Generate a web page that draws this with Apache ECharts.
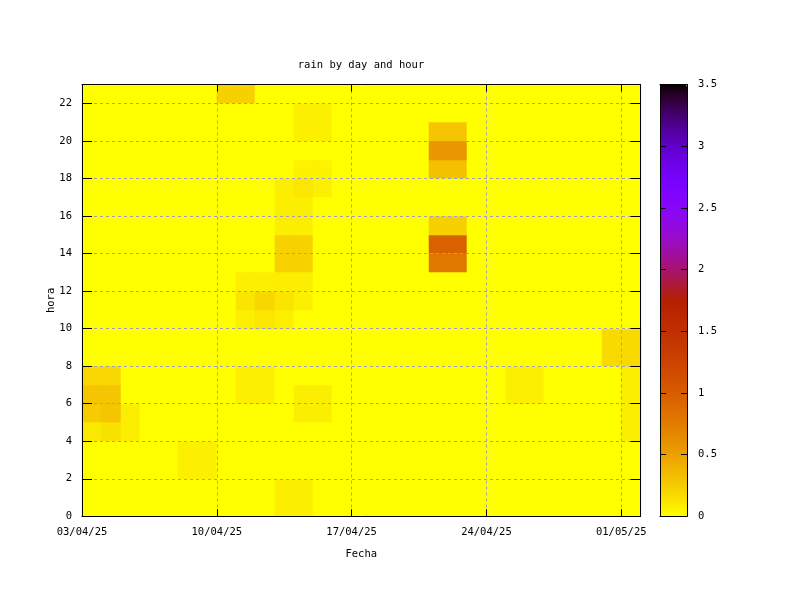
<!DOCTYPE html>
<html>
<head>
<meta charset="utf-8">
<script src="https://cdn.jsdelivr.net/npm/echarts@6/dist/echarts.min.js"></script>
<style>html,body{margin:0;padding:0;background:#fff;}#chart{width:800px;height:600px;}</style>
</head>
<body>
<div id="chart"></div>
<script>
// ---- data ----
const startDateUTC = Date.UTC(2025, 3, 3); // 03/04/25
const dayCount = 29;   // days on x axis
const hourCount = 23;  // hour rows
const xTickDays = [0, 7, 14, 21, 28];
const cbTicks = [0, 0.5, 1, 1.5, 2, 2.5, 3, 3.5];
// non-zero cells (day index from 03/04/25, hour, rain)
const cellDay  = [7,8, 11,12,11,12, 11,12, 11,12,10, 10,11,10,11, 10,11,10,11, 8,9,10,11, 8,9,10,11, 8,9,10, 8,9,8,9, 11,12,11,12, 5,6,5,6, 10,11,10,11, 0,1,0,1,0,1,2,0,1,2, 18,19,18,19,18,19,18,19,18,19,18,19, 22,23,22,23, 27,28,27,28, 28,28,28,28];
const cellHour = [22,22, 21,21,20,20, 18,18, 17,17,17, 16,16,15,15, 14,14,13,13, 12,12,12,12, 11,11,11,11, 10,10,10, 7,7,6,6, 6,6,5,5, 3,3,2,2, 1,1,0,0, 7,7,6,6,5,5,5,4,4,4, 20,20,19,19,18,18,15,15,14,14,13,13, 7,7,6,6, 9,9,8,8, 7,6,5,4];
const cellRain = [0.23,0.23, 0.07,0.07,0.07,0.07, 0.06,0.06, 0.12,0.07,0.08, 0.08,0.08,0.08,0.08, 0.22,0.22,0.22,0.22, 0.07,0.07,0.08,0.08, 0.13,0.2,0.13,0.07, 0.07,0.12,0.07, 0.07,0.07,0.07,0.07, 0.08,0.08,0.08,0.08, 0.07,0.07,0.07,0.07, 0.08,0.08,0.08,0.08, 0.19,0.19,0.29,0.29,0.25,0.29,0.08,0.1,0.14,0.08, 0.29,0.29,0.57,0.57,0.31,0.31,0.23,0.23,0.97,0.97,0.78,0.78, 0.07,0.07,0.07,0.07, 0.18,0.18,0.18,0.18, 0.08,0.08,0.08,0.08];

// ---- build table ----
const grid = {};
for (let i = 0; i < cellDay.length; i++) grid[cellDay[i] + '_' + cellHour[i]] = cellRain[i];
const table = [];
for (let d = 0; d < dayCount; d++) {
  for (let h = 0; h < hourCount; h++) {
    table.push([d, h, grid[d + '_' + h] || 0]);
  }
}

// gnuplot palette rgbformulae 7,5,15 (negative)
const paletteColors = [];
const N = 64;
for (let i = 0; i <= N; i++) {
  const x = 1 - i / N;
  const r = Math.sqrt(x), g = x * x * x, b = Math.max(0, Math.sin(2 * Math.PI * x));
  const c = v => Math.round(Math.min(1, Math.max(0, v)) * 255);
  paletteColors.push('rgb(' + c(r) + ',' + c(g) + ',' + c(b) + ')');
}

function fmtDate(v) {
  const dt = new Date(startDateUTC + v * 86400000);
  const p = n => (n < 10 ? '0' : '') + n;
  return p(dt.getUTCDate()) + '/' + p(dt.getUTCMonth() + 1) + '/' + p(dt.getUTCFullYear() % 100);
}

const FONT = 'DejaVu Sans Mono';
const FS = 10.5;
const gridLine = { show: true, showMinLine: true, showMaxLine: false, lineStyle: { color: '#a0a0b0', type: [3, 3], width: 1 } };
const black = { color: '#000', width: 1 };
const line = { show: true, onZero: false, lineStyle: black };

const chart = echarts.init(document.getElementById('chart'), null, { renderer: 'canvas' });
chart.setOption({
  backgroundColor: '#fff',
  animation: false,
  textStyle: { fontFamily: FONT },
  title: {
    text: 'rain by day and hour', left: 361, top: 60, textAlign: 'center', padding: 0,
    textStyle: { fontFamily: FONT, fontSize: FS, fontWeight: 'normal', color: '#000' }
  },
  grid: [
    { left: 82, top: 84.5, width: 558.5, height: 431.8, containLabel: false },
    { left: 660, top: 84.5, width: 27, height: 431.8, containLabel: false }
  ],
  xAxis: [
    {
      gridIndex: 0, type: 'value', min: 0, max: dayCount, interval: 7, position: 'bottom', z: 10,
      name: 'Fecha', nameLocation: 'middle', nameGap: 32, nameMoveOverlap: false,
      nameTextStyle: { fontFamily: FONT, fontSize: FS, color: '#000' },
      axisLine: line,
      axisTick: { show: true, inside: true, length: 7, lineStyle: black },
      axisLabel: { show: true, margin: 10, fontFamily: FONT, fontSize: FS, color: '#000', showMaxLabel: false,
        formatter: v => (xTickDays.indexOf(v) >= 0 ? fmtDate(v) : '') },
      splitLine: gridLine
    },
    {
      gridIndex: 0, type: 'value', min: 0, max: dayCount, interval: 7, position: 'top', z: 11,
      axisLine: line,
      axisTick: { show: true, inside: true, length: 7, lineStyle: black },
      axisLabel: { show: false }, splitLine: { show: false }
    },
    { gridIndex: 1, type: 'value', min: 0, max: 1, position: 'bottom', z: 11,
      axisLine: line, axisTick: { show: false }, axisLabel: { show: false }, splitLine: { show: false } },
    { gridIndex: 1, type: 'value', min: 0, max: 1, position: 'top', z: 11,
      axisLine: line, axisTick: { show: false }, axisLabel: { show: false }, splitLine: { show: false } }
  ],
  yAxis: [
    {
      gridIndex: 0, type: 'value', min: 0, max: hourCount, interval: 2, position: 'left', z: 10,
      name: 'hora', nameLocation: 'middle', nameGap: 25, nameMoveOverlap: false,
      nameTextStyle: { fontFamily: FONT, fontSize: FS, color: '#000' },
      axisLine: line,
      axisTick: { show: true, inside: true, length: 10, lineStyle: black },
      axisLabel: { show: true, margin: 10, fontFamily: FONT, fontSize: FS, color: '#000', showMaxLabel: false },
      splitLine: gridLine
    },
    {
      gridIndex: 0, type: 'value', min: 0, max: hourCount, interval: 2, position: 'right', z: 11,
      axisLine: line,
      axisTick: { show: true, inside: true, length: 10, lineStyle: black },
      axisLabel: { show: false }, splitLine: { show: false }
    },
    {
      gridIndex: 1, type: 'value', min: 0, max: 3.5, interval: 0.5, position: 'right', z: 11,
      axisLine: line,
      axisTick: { show: true, inside: true, length: 6, lineStyle: black },
      axisLabel: { show: true, margin: 11, fontFamily: FONT, fontSize: FS, color: '#000',
        formatter: v => (cbTicks.indexOf(v) >= 0 ? String(v) : '') },
      splitLine: { show: false }
    },
    {
      gridIndex: 1, type: 'value', min: 0, max: 3.5, interval: 0.5, position: 'left', z: 11,
      axisLine: line,
      axisTick: { show: true, inside: true, length: 6, lineStyle: black },
      axisLabel: { show: false }, splitLine: { show: false }
    }
  ],
  visualMap: {
    type: 'continuous', min: 0, max: 3.5, dimension: 2, seriesIndex: 0,
    calculable: false, hoverLink: false, realtime: false,
    left: 660, top: 84.5, itemWidth: 27, itemHeight: 431.8, padding: 0,
    text: null, showLabel: false, z: 4,
    inRange: { color: paletteColors }
  },
  series: [{
    type: 'custom',
    xAxisIndex: 0, yAxisIndex: 0, z: 2,
    data: table,
    encode: { x: 0, y: 1 },
    renderItem: function (params, api) {
      const d = api.value(0), h = api.value(1);
      const p0 = api.coord([d, h + 1]);
      const p1 = api.coord([d + 1, h]);
      const x0 = Math.round(p0[0]), x1 = Math.round(p1[0]);
      const y0 = Math.round(p0[1]), y1 = Math.round(p1[1]);
      const col = api.visual('color');
      return {
        type: 'rect',
        shape: { x: x0, y: y0, width: x1 - x0, height: y1 - y0 },
        style: { fill: col, stroke: col, lineWidth: 0.6 }
      };
    }
  }]
});
</script>
</body>
</html>
